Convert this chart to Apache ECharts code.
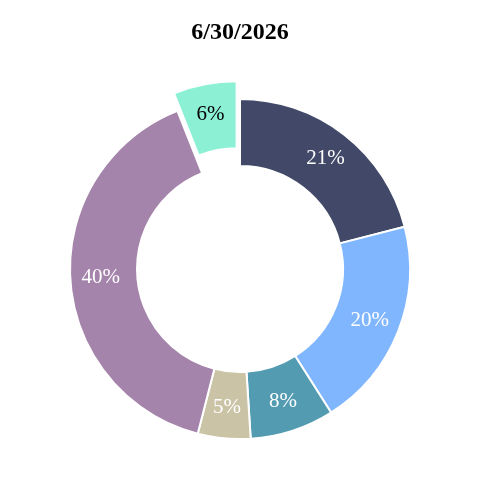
<!DOCTYPE html>
<html>
<head>
<meta charset="utf-8">
<script src="https://cdn.jsdelivr.net/npm/echarts@6/dist/echarts.min.js"></script>
<style>
  html, body { margin: 0; padding: 0; background: #fff; }
  #chart { width: 480px; height: 480px; }
</style>
</head>
<body>
<div id="chart"></div>
<script>
// slices, clockwise from 12 o'clock
const categories = ["A", "B", "C", "D", "E", "F"];
const values = [21, 20, 8, 5, 40, 6];
const colors = ["#414868", "#80b6fe", "#539bb1", "#cbc3a6", "#a584ab", "#8cf0d5"];
const labelColors = ["#fff", "#fff", "#fff", "#fff", "#fff", "#000"];
const explodedIndex = 5;

const chart = echarts.init(document.getElementById("chart"));
chart.setOption({
  animation: false,
  title: {
    text: "6/30/2026",
    left: "center",
    top: 16,
    textStyle: {
      fontFamily: "Liberation Serif",
      fontWeight: "bold",
      fontSize: 24,
      color: "#000",
    },
  },
  series: [
    {
      type: "pie",
      center: [240, 269],
      radius: [103, 170],
      startAngle: 90,
      clockwise: true,
      selectedMode: "single",
      selectedOffset: 18,
      itemStyle: {
        borderColor: "#fff",
        borderWidth: 2,
      },
      label: {
        show: true,
        position: "inside",
        formatter: "{c}%",
        fontFamily: "Liberation Serif",
        fontSize: 21,
      },
      labelLine: { show: false },
      emphasis: { disabled: true },
      data: categories.map((name, i) => ({
        name: name,
        value: values[i],
        selected: i === explodedIndex,
        itemStyle: { color: colors[i] },
        label: { color: labelColors[i] },
      })),
    },
  ],
});
</script>
</body>
</html>
